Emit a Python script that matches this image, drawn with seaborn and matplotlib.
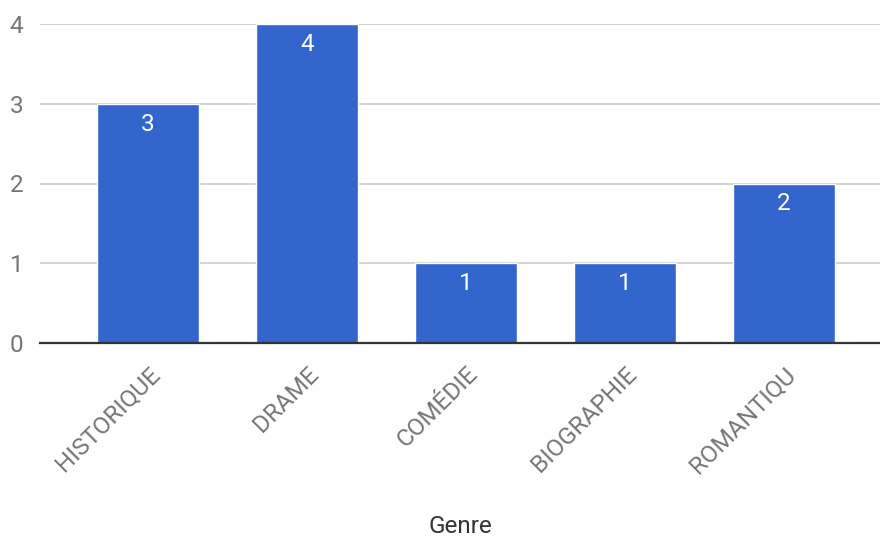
import matplotlib
matplotlib.use("Agg")
import matplotlib.pyplot as plt
import seaborn as sns
import pandas as pd

genres = ["HISTORIQUE", "DRAME", "COMÉDIE", "BIOGRAPHIE", "ROMANTIQU"]
counts = [3, 4, 1, 1, 2]

df = pd.DataFrame({"Genre": genres, "Nombre": counts})

sns.set_style("white")
plt.rcParams['font.family'] = ['Roboto', 'DejaVu Sans']

fig = plt.figure(figsize=(8.8, 5.39), dpi=100)
ax = fig.add_axes([40 / 880, 196 / 539, 840 / 880, 319 / 539])

sns.barplot(data=df, x="Genre", y="Nombre", color="#3366cc", saturation=1,
            width=0.645, ax=ax, zorder=3)

# value labels inside the top of each bar
for c in ax.containers:
    ax.bar_label(c, labels=[str(v) for v in counts], label_type="edge",
                 padding=-23, color="white", fontsize=17.5)

ax.set_ylim(0, 4)
ax.set_xlim(-0.679, 4.604)
ax.set_yticks([0, 1, 2, 3, 4])
ax.yaxis.grid(True, color="#cccccc", linewidth=1.2, zorder=0)
for s in ["top", "right", "left"]:
    ax.spines[s].set_visible(False)
ax.spines["bottom"].set_color("#333333")
ax.spines["bottom"].set_linewidth(1.6)
ax.spines["bottom"].set_zorder(4)
ax.tick_params(axis="y", length=0, pad=12, labelsize=17.5, labelcolor="#757575")
ax.tick_params(axis="x", length=0, pad=14, labelsize=17.5, labelcolor="#757575")
plt.setp(ax.get_xticklabels(), rotation=45, ha="right", va="top",
         rotation_mode="anchor")
ax.set_ylabel("")
ax.set_xlabel("Genre", fontsize=17.5, color="#333333")
ax.xaxis.set_label_coords(0.5, -0.54)

fig.savefig("out.png", dpi=100)
